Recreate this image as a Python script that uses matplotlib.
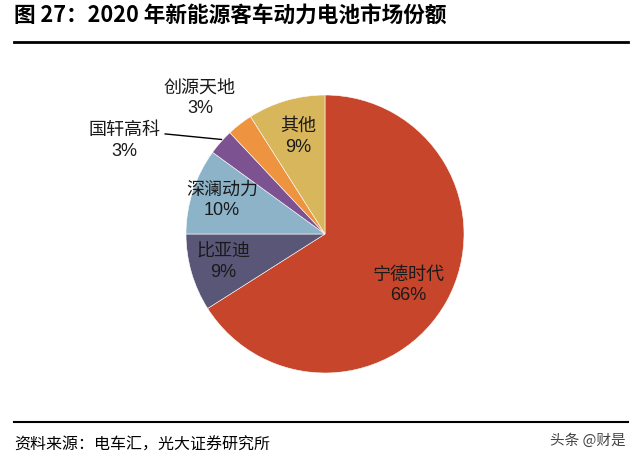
import matplotlib.pyplot as plt

plt.rcParams['font.family'] = ['Noto Sans CJK SC', 'DejaVu Sans']

# data
companies = ['宁德时代', '比亚迪', '深澜动力', '国轩高科', '创源天地', '其他']
shares = [66, 9, 10, 3, 3, 9]
colors = ['#C7452A', '#5A5677', '#8DB3C9', '#7D5290', '#EE9340', '#D8B65B']

# label centres (data units, pie radius = 1)
label_pos = [(0.60, -0.37), (-0.73, -0.20), (-0.74, 0.245),
             (-1.44, 0.67), (-0.90, 0.98), (-0.19, 0.70)]

W, H = 640, 461
fig = plt.figure(figsize=(W / 100, H / 100), dpi=100)

# pie axes: centre (325, 234) px, radius 139 px
cx, cy, r = 325, 234, 139
ax = fig.add_axes([(cx - r) / W, (H - cy - r) / H, 2 * r / W, 2 * r / H])
ax.pie(shares, colors=colors, startangle=90, counterclock=False,
       wedgeprops=dict(edgecolor='white', linewidth=0.4))
ax.set_xlim(-1, 1)
ax.set_ylim(-1, 1)
ax.set_aspect('equal')
ax.axis('off')

dy = 10.5 / r
for name, val, (x, y) in zip(companies, shares, label_pos):
    ax.text(x, y + dy, name, ha='center', va='center', fontsize=13,
            color='#1a1a1a', clip_on=False)
    ax.text(x, y - dy, f'{val}%', ha='center', va='center', fontsize=13,
            color='#1a1a1a', family=['Liberation Sans', 'DejaVu Sans'], clip_on=False)

# leader line for 国轩高科
ax.plot([-1.15, -0.745], [0.72, 0.68], color='black', lw=1, clip_on=False)

# title, rules and source
fig.text(14 / W, 1 - 16 / H, '图 27：2020 年新能源客车动力电池市场份额',
         fontsize=15.6, fontweight='bold', ha='left', va='center')
fig.add_artist(plt.Line2D([14 / W, 628 / W], [1 - 42 / H] * 2, color='black', lw=2))
fig.add_artist(plt.Line2D([14 / W, 628 / W], [1 - 422 / H] * 2, color='black', lw=1.5))
fig.text(14 / W, 1 - 445 / H, '资料来源：电车汇，光大证券研究所',
         fontsize=11.5, ha='left', va='center')
fig.text(626 / W, 1 - 441 / H, '头条 @财是', fontsize=10.5, color='#444444',
         ha='right', va='center')

fig.savefig('out.png', dpi=100)
